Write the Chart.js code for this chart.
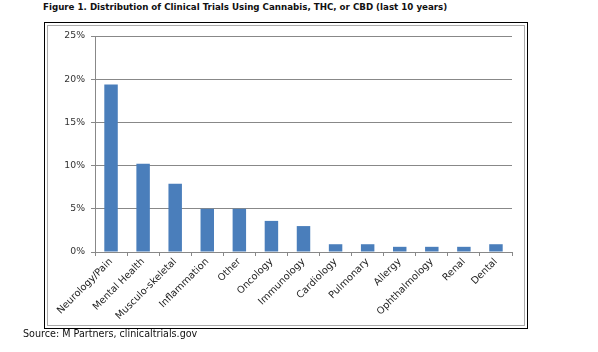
<!DOCTYPE html>
<html>
<head>
<meta charset="utf-8">
<script src="https://cdn.jsdelivr.net/npm/chart.js@4.4.0/dist/chart.umd.min.js"></script>
<style>
  body { margin: 0; background: #fff; font-family: "DejaVu Sans", Verdana, sans-serif; }
  #wrap { position: relative; width: 598px; height: 352px; overflow: hidden; }
  #title { position: absolute; left: 43px; top: 2px; font-size: 8.7px; font-weight: bold; color: #111; white-space: nowrap; }
  #frame { position: absolute; left: 44px; top: 22px; width: 478px; height: 301px; border: 1px solid #000; padding: 2px; }
  #frame div { width: 100%; height: 100%; box-sizing: border-box; border: 1px solid #aaa; }
  #source { position: absolute; left: 23px; top: 328px; font-size: 9.6px; color: #111; white-space: nowrap; }
  canvas { position: absolute; left: 0; top: 0; }
</style>
</head>
<body>
<div id="wrap">
  <div id="title">Figure 1. Distribution of Clinical Trials Using Cannabis, THC, or CBD (last 10 years)</div>
  <div id="frame"><div></div></div>
  <canvas id="chart" width="598" height="352"></canvas>
  <div id="source">Source: M Partners, clinicaltrials.gov</div>
</div>
<script>
const categories = ['Neurology/Pain', 'Mental Health', 'Musculo-skeletal', 'Inflammation', 'Other',
  'Oncology', 'Immunology', 'Cardiology', 'Pulmonary', 'Allergy', 'Ophthalmology', 'Renal', 'Dental'];
const shares = [19.4, 10.2, 7.9, 5.0, 5.0, 3.6, 3.0, 0.9, 0.9, 0.6, 0.6, 0.6, 0.9];
const yTicks = [0, 5, 10, 15, 20, 25];

const family = '"DejaVu Sans", Verdana, sans-serif';

new Chart(document.getElementById('chart'), {
  type: 'bar',
  data: {
    labels: categories,
    datasets: [{
      data: shares,
      backgroundColor: '#4a7ebb',
      borderWidth: 0,
      barPercentage: 0.42,
      categoryPercentage: 1
    }]
  },
  options: {
    responsive: false,
    animation: false,
    layout: { padding: { left: 35, top: 36, right: 86, bottom: 20 } },
    plugins: { legend: { display: false }, tooltip: { enabled: false } },
    scales: {
      y: {
        min: 0, max: 25,
        afterFit: (s) => { s.width = 60; },
        afterBuildTicks: (s) => { s.ticks = yTicks.map(v => ({ value: v })); },
        ticks: { font: { family, size: 9.3 }, color: '#333', padding: 6, callback: (v) => v + '%' },
        grid: { color: '#888', tickLength: 4 },
        border: { color: '#888' }
      },
      x: {
        afterFit: (s) => { s.height = 80; },
        ticks: { font: { family, size: 9.8 }, color: '#222', minRotation: 45, maxRotation: 45, autoSkip: false, padding: 0 },
        grid: { drawOnChartArea: false, color: '#888', tickLength: 4 },
        border: { color: '#888' }
      }
    }
  }
});
</script>
</body>
</html>
